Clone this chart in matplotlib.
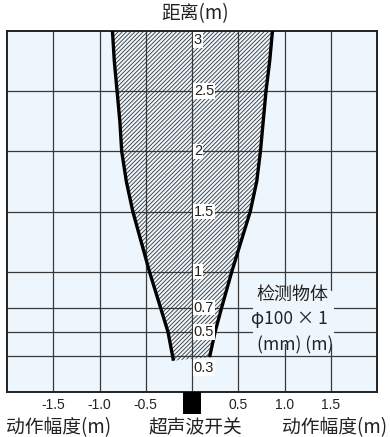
import matplotlib
matplotlib.use("Agg")
import matplotlib.pyplot as plt
from matplotlib.patches import Polygon, Rectangle
import matplotlib.transforms as mtransforms

plt.rcParams['hatch.linewidth'] = 0.6

CJK = ['Noto Sans CJK SC', 'DejaVu Sans']
NUM = ['Liberation Sans', 'DejaVu Sans']

# boundary of detection area (distance m, width m)
left_y = [3.0, 2.75, 2.5, 2.25, 2.0, 1.75, 1.5, 1.25, 1.0, 0.7, 0.5, 0.26]
left_x = [-0.86, -0.84, -0.81, -0.78, -0.76, -0.71, -0.64, -0.55, -0.46, -0.34, -0.26, -0.20]
right_y = [3.0, 2.75, 2.5, 2.25, 2.0, 1.75, 1.5, 1.25, 1.0, 0.7, 0.5, 0.29]
right_x = [0.87, 0.84, 0.80, 0.77, 0.74, 0.70, 0.63, 0.53, 0.43, 0.32, 0.25, 0.19]

x_grid = [-1.5, -1.0, -0.5, 0.0, 0.5, 1.0, 1.5]
y_grid = [0.3, 0.5, 0.7, 1.0, 1.5, 2.0, 2.5]
x_tick_labels = ['-1.5', '-1.0', '-0.5', '0.5', '1.0', '1.5']
x_tick_vals = [-1.5, -1.0, -0.5, 0.5, 1.0, 1.5]
y_labels = ['3', '2.5', '2', '1.5', '1', '0.7', '0.5', '0.3']
y_label_vals = [2.925, 2.5, 2.0, 1.5, 1.0, 0.7, 0.5, 0.2]

title = '距离(m)'
bottom_left = '动作幅度(m)'
bottom_mid = '超声波开关'
bottom_right = '动作幅度(m)'
ann_lines = ['检测物体', 'φ100 × 1', '(mm) (m)']

BG = '#EEF6FD'
GRID = '#3a3a3a'
TXT = '#222222'

fig = plt.figure(figsize=(3.9, 4.37), dpi=100)
ax = fig.add_axes([7/390, 1-392/437, 370/390, 361/437])
ax.set_xlim(-2, 2)
ax.set_ylim(0, 3)
ax.set_facecolor(BG)
ax.set_xticks([])
ax.set_yticks([])
for s in ax.spines.values():
    s.set_linewidth(1.4)
    s.set_color('#222222')

for xv in x_grid:
    ax.axvline(xv, color=GRID, lw=0.9, zorder=1)
for yv in y_grid:
    ax.axhline(yv, color=GRID, lw=0.9, zorder=1)

# hatched area
poly_pts = list(zip(left_x, left_y)) + list(zip(right_x[::-1], right_y[::-1]))
poly = Polygon(poly_pts, closed=True, facecolor='none', edgecolor='#333333',
               hatch='////////', lw=0, zorder=2)
ax.add_patch(poly)

ax.plot(left_x, left_y, color='black', lw=2.4, zorder=4, solid_capstyle='butt')
ax.plot(right_x, right_y, color='black', lw=2.4, zorder=4, solid_capstyle='butt')

for lab, yv in zip(y_labels, y_label_vals):
    ax.text(0.02, yv, lab, ha='left', va='center', fontsize=10.5, family=NUM,
            zorder=5, color=TXT,
            bbox=dict(facecolor='white', edgecolor='none', pad=0.5))

# annotation background
ax.add_patch(Rectangle((0.66, 0.40), 0.87, 0.44, facecolor=BG, edgecolor='none', zorder=3))
ax.text(0.70, 0.81, ann_lines[0], ha='left', va='center', fontsize=13, family=CJK, zorder=5, color=TXT)
ax.text(0.64, 0.605, ann_lines[1], ha='left', va='center', fontsize=12.5, family=CJK, zorder=5, color=TXT)
ax.text(0.70, 0.39, ann_lines[2], ha='left', va='center', fontsize=12.5, family=CJK, zorder=5, color=TXT)

trans = mtransforms.blended_transform_factory(ax.transData, ax.transAxes)
for lab, xv in zip(x_tick_labels, x_tick_vals):
    ax.text(xv, -0.036, lab, ha='center', va='center', fontsize=10, family=NUM,
            transform=trans, clip_on=False, color=TXT)
ax.add_patch(Rectangle((-0.1, -22/361), 0.2, 22/361, transform=trans,
                       facecolor='black', edgecolor='none', clip_on=False, zorder=5))

fig.text(195/390, 1-14/437, title, ha='center', va='center', fontsize=13.5, family=CJK, color=TXT)
fig.text(6/390, 1-428/437, bottom_left, ha='left', va='center', fontsize=13.5, family=CJK, color=TXT)
fig.text(195/390, 1-428/437, bottom_mid, ha='center', va='center', fontsize=13.5, family=CJK, color=TXT)
fig.text(387/390, 1-428/437, bottom_right, ha='right', va='center', fontsize=13.5, family=CJK, color=TXT)

fig.savefig('out.png', dpi=100, facecolor='white')
